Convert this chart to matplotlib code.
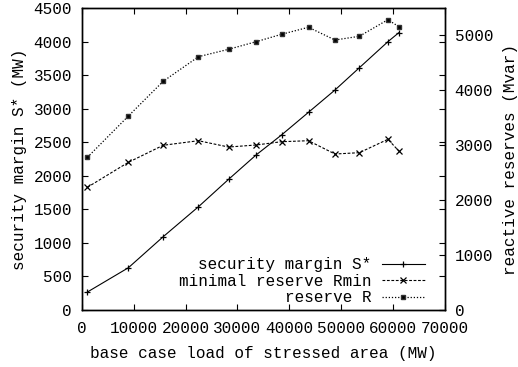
import matplotlib
matplotlib.use("Agg")
import matplotlib.pyplot as plt

# data
load = [1100, 9000, 15700, 22500, 28300, 33600, 38500, 43700, 48800, 53500, 59000, 61100]
security_margin = [268, 630, 1092, 1539, 1947, 2310, 2608, 2946, 3278, 3610, 3998, 4132]
reserve_rmin = [2235, 2690, 3000, 3083, 2968, 3005, 3065, 3083, 2841, 2865, 3109, 2896]
reserve_r = [2781, 3533, 4165, 4613, 4748, 4886, 5021, 5149, 4917, 4985, 5287, 5160]

x_ticks = [0, 10000, 20000, 30000, 40000, 50000, 60000, 70000]
y1_ticks = [0, 500, 1000, 1500, 2000, 2500, 3000, 3500, 4000, 4500]
y2_ticks = [0, 1000, 2000, 3000, 4000, 5000]

FONT = "Liberation Mono"
FS = 11.5
plt.rcParams['font.family'] = [FONT, 'DejaVu Sans Mono']
plt.rcParams['font.size'] = FS

fig = plt.figure(figsize=(5.18, 3.67), dpi=100)
ax = fig.add_axes([81.7/518, 1-310/367, (445-81.7)/518, (310-8)/367])
ax2 = ax.twinx()

l1, = ax.plot(load, security_margin, color='black', lw=0.8, ls='-',
              marker='+', ms=5, mew=0.9, label='security margin S*')
l2, = ax2.plot(load, reserve_rmin, color='black', lw=0.8, ls=(0, (2.5, 1.5)),
               marker='x', ms=4, mew=0.9, label='minimal reserve Rmin')
l3, = ax2.plot(load, reserve_r, color='black', lw=0.9, ls=(0, (1, 1.5)),
               marker='s', ms=3.3, mfc='black', mec='#333333', label='reserve R')

ax.set_xlim(0, 70000)
ax.set_ylim(0, 4500)
ax2.set_ylim(0, 5500)
ax.set_xticks(x_ticks)
ax.set_xticklabels([str(v) for v in x_ticks])
ax.set_yticks(y1_ticks)
ax.set_yticklabels([str(v) for v in y1_ticks])
ax2.set_yticks(y2_ticks)
ax2.set_yticklabels([str(v) for v in y2_ticks])

ax.tick_params(axis='x', direction='in', length=4, width=0.8, top=True, pad=8, labelsize=FS)
ax.tick_params(axis='y', direction='in', length=4, width=0.8, right=True, pad=7, labelsize=FS)
ax2.tick_params(axis='y', direction='in', length=4, width=0.8, left=False, right=True, pad=7, labelsize=FS)

for a in (ax, ax2):
    for s in a.spines.values():
        s.set_linewidth(1.0)

ax.set_xlabel('base case load of stressed area (MW)', labelpad=7)
ax.set_ylabel('security margin S* (MW)', labelpad=5)
ax2.set_ylabel('reactive reserves (Mvar)', labelpad=7)

leg = ax.legend(handles=[l1, l2, l3], loc='lower right', bbox_to_anchor=(0.945, 0.015),
                frameon=False, markerfirst=False, numpoints=1, handlelength=2.7,
                handletextpad=0.65, labelspacing=0.1, borderpad=0, borderaxespad=0,
                fontsize=FS)

fig.savefig('out.png', dpi=100)
